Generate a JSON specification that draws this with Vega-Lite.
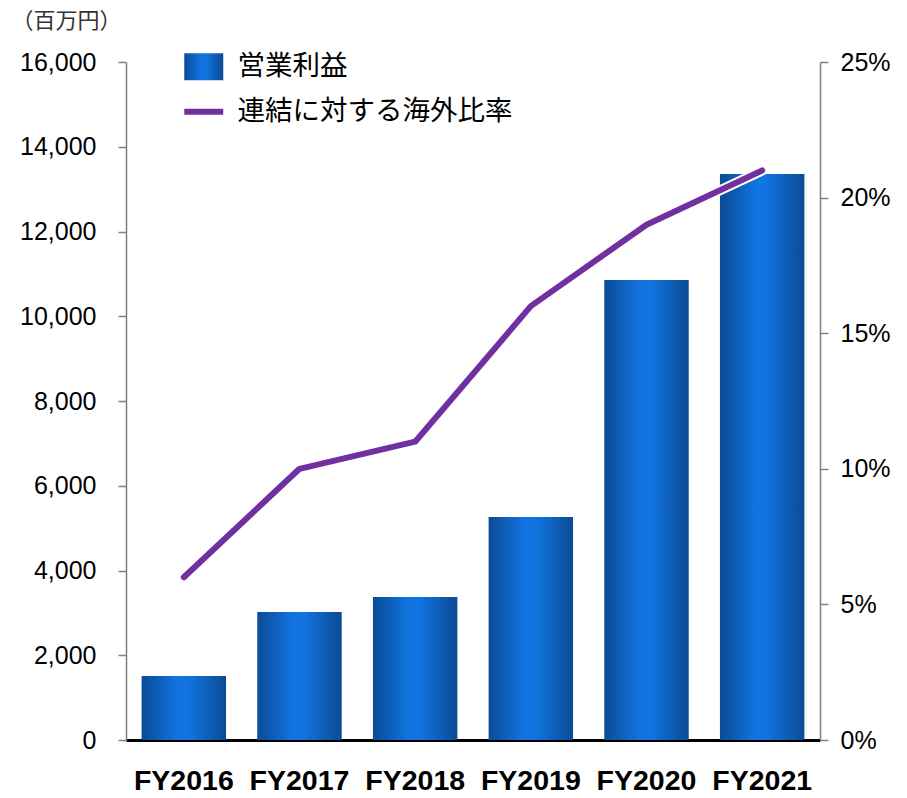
{
  "$schema": "https://vega.github.io/schema/vega-lite/v6.json",
  "width": 694,
  "height": 678,
  "autosize": "none",
  "padding": {"left": 126, "top": 62, "right": 87, "bottom": 58},
  "background": "white",
  "config": {"view": {"stroke": null}, "axis": {"grid": false}},
  "data": {"values": [
    {"year": "FY2016", "profit": 1510, "ratio": 0.06},
    {"year": "FY2017", "profit": 3020, "ratio": 0.10},
    {"year": "FY2018", "profit": 3375, "ratio": 0.11},
    {"year": "FY2019", "profit": 5262, "ratio": 0.16},
    {"year": "FY2020", "profit": 10855, "ratio": 0.19},
    {"year": "FY2021", "profit": 13357, "ratio": 0.21}
  ]},
  "encoding": {
    "x": {
      "field": "year", "type": "nominal", "sort": null,
      "scale": {"paddingInner": 0.27, "paddingOuter": 0.135},
      "axis": {
        "title": null, "labelAngle": 0, "ticks": false,
        "labelFont": "Liberation Sans", "labelFontSize": 28.5, "labelFontWeight": "bold",
        "labelColor": "black", "labelPadding": 26,
        "domainColor": "black", "domainWidth": 3
      }
    }
  },
  "layer": [
    {
      "mark": {
        "type": "bar",
        "color": {
          "gradient": "linear", "x1": 0, "x2": 1, "y1": 0, "y2": 0,
          "stops": [
            {"offset": 0, "color": "#0a4b96"},
            {"offset": 0.42, "color": "#1274e0"},
            {"offset": 0.55, "color": "#1274e0"},
            {"offset": 1, "color": "#0a4b96"}
          ]
        }
      },
      "encoding": {
        "y": {
          "field": "profit", "type": "quantitative",
          "scale": {"domain": [0, 16000], "nice": false},
          "axis": {
            "title": "（百万円）", "titleAngle": 0, "titleX": -60, "titleY": -42,
            "titleAlign": "center", "titleBaseline": "middle",
            "titleFont": "Noto Sans CJK JP", "titleFontSize": 22, "titleFontWeight": "normal", "titleColor": "#333333",
            "values": [0, 2000, 4000, 6000, 8000, 10000, 12000, 14000, 16000],
            "format": ",d",
            "labelFont": "Liberation Sans", "labelFontSize": 25, "labelColor": "black", "labelPadding": 22,
            "tickSize": 8, "tickColor": "#808080", "domainColor": "#808080", "domainWidth": 1.5, "tickWidth": 1.5
          }
        }
      }
    },
    {
      "mark": {"type": "line", "stroke": "white", "strokeWidth": 10, "strokeCap": "round", "strokeJoin": "round"},
      "encoding": {
        "y": {"field": "ratio", "type": "quantitative", "scale": {"domain": [0, 0.25], "nice": false}, "axis": null}
      }
    },
    {
      "mark": {"type": "line", "strokeWidth": 6, "strokeCap": "round", "strokeJoin": "round"},
      "encoding": {
        "y": {
          "field": "ratio", "type": "quantitative",
          "scale": {"domain": [0, 0.25], "nice": false},
          "axis": {
            "orient": "right", "title": null,
            "values": [0, 0.05, 0.1, 0.15, 0.2, 0.25],
            "format": ".0%",
            "labelFont": "Liberation Sans", "labelFontSize": 25, "labelColor": "black", "labelPadding": 12,
            "tickSize": 8, "tickColor": "#808080", "domainColor": "#808080", "domainWidth": 1.5, "tickWidth": 1.5
          }
        },
        "color": {
          "datum": "連結に対する海外比率",
          "scale": {"domain": ["営業利益", "連結に対する海外比率"], "range": ["#1274e0", "#7030a0"]},
          "legend": {
            "orient": "none", "legendX": 64, "legendY": -9, "direction": "vertical",
            "title": null, "padding": 0,
            "labelFont": "Noto Sans CJK JP", "labelFontSize": 27.5, "labelColor": "black", "labelOffset": 20,
            "labelLimit": 500,
            "symbolSize": 1521, "rowPadding": 16, "symbolStrokeWidth": 6,
            "encode": {
              "symbols": {
                "update": {
                  "shape": {"signal": "datum.value === '営業利益' ? 'M-1,-0.69H1V0.69H-1Z' : 'stroke'"},
                  "fill": {"signal": "datum.value === '営業利益' ? {gradient: 'linear', x1: 0, x2: 1, y1: 0, y2: 0, stops: [{offset: 0, color: '#0a4b96'}, {offset: 0.42, color: '#1274e0'}, {offset: 0.55, color: '#1274e0'}, {offset: 1, color: '#0a4b96'}]} : 'transparent'"},
                  "stroke": {"signal": "datum.value === '営業利益' ? 'transparent' : '#7030a0'"},
                  "strokeWidth": {"signal": "datum.value === '営業利益' ? 0 : 6"},
                  "opacity": {"value": 1}
                }
              }
            }
          }
        }
      }
    }
  ],
  "resolve": {"scale": {"y": "independent"}}
}
